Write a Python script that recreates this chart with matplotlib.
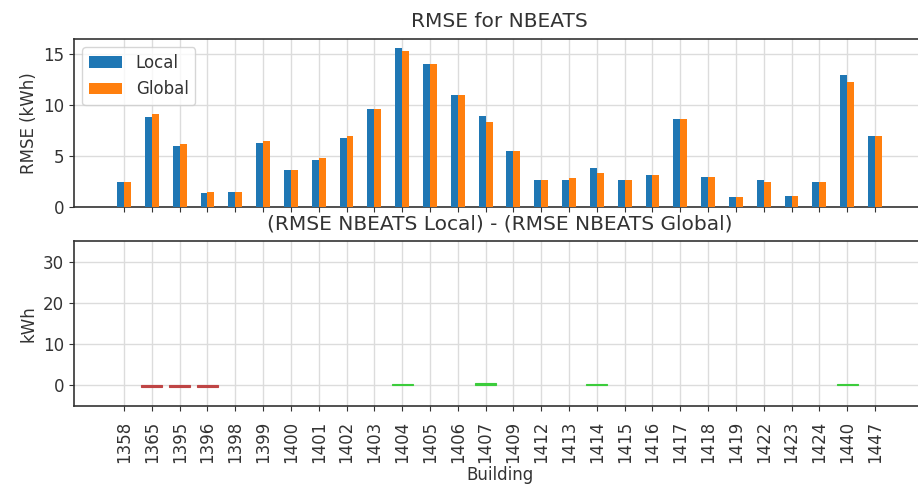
import matplotlib
matplotlib.use("Agg")
import matplotlib.pyplot as plt
import numpy as np

buildings = ["1358", "1365", "1395", "1396", "1398", "1399", "1400", "1401", "1402",
             "1403", "1404", "1405", "1406", "1407", "1409", "1412", "1413", "1414",
             "1415", "1416", "1417", "1418", "1419", "1422", "1423", "1424", "1440", "1447"]
rmse_local = [2.5, 8.8, 6.0, 1.35, 1.5, 6.3, 3.65, 4.65, 6.8, 9.65, 15.65, 14.0, 11.0, 8.95,
              5.5, 2.65, 2.65, 3.8, 2.65, 3.1, 8.65, 2.95, 0.95, 2.65, 1.1, 2.5, 12.95, 6.95]
rmse_global = [2.5, 9.15, 6.15, 1.5, 1.5, 6.5, 3.65, 4.8, 6.95, 9.65, 15.35, 14.0, 11.0, 8.3,
               5.5, 2.65, 2.8, 3.3, 2.65, 3.1, 8.65, 2.95, 0.95, 2.5, 1.1, 2.5, 12.3, 6.95]
diff_values = [0.0, -0.4, -0.35, -0.35, 0.0, 0.0, 0.0, 0.0, 0.0, 0.0, 0.35, 0.0, 0.0, 0.65,
               0.0, 0.0, 0.0, 0.4, 0.0, 0.0, 0.0, 0.0, 0.0, 0.0, 0.0, 0.0, 0.4, 0.0]

BLUE = "#1f77b4"
ORANGE = "#ff7f0e"
RED = "#bf4545"
GREEN = "#3ccc3c"
TXT = "#333333"

plt.rcParams.update({
    "font.family": "DejaVu Sans",
    "font.size": 12,
    "text.color": TXT,
    "axes.labelcolor": TXT,
    "xtick.color": TXT,
    "ytick.color": TXT,
    "axes.edgecolor": "#333333",
    "axes.linewidth": 1.2,
})

W, H = 918, 486
fig = plt.figure(figsize=(W / 100, H / 100), dpi=100)

def frac(l, t, r, b):
    return [l / W, 1 - b / H, (r - l) / W, (b - t) / H]

ax1 = fig.add_axes(frac(74, 39, 925, 207))
ax2 = fig.add_axes(frac(74, 241, 925, 406), sharex=ax1)

x = np.arange(len(buildings))
bw = 0.25
ax1.bar(x - bw / 2, rmse_local, width=bw, color=BLUE, label="Local", zorder=3)
ax1.bar(x + bw / 2, rmse_global, width=bw, color=ORANGE, label="Global", zorder=3)
ax1.set_ylim(0, 16.5)
ax1.set_yticks([0, 5, 10, 15])
ax1.set_ylabel("RMSE (kWh)")
ax1.set_title("RMSE for NBEATS", fontsize=14.5, color=TXT, pad=8.5)
ax1.legend(loc="upper left", fontsize=12, framealpha=0.8)
ax1.grid(True, color="#dcdcdc", linewidth=1.0, zorder=0)
ax1.tick_params(axis="x", labelbottom=False)

dcolors = [GREEN if d > 0 else RED for d in diff_values]
mask = [d != 0 for d in diff_values]
ax2.bar(x[mask], np.array(diff_values)[mask], width=0.75,
        color=np.array(dcolors)[mask], edgecolor=np.array(dcolors)[mask],
        linewidth=0.8, zorder=3)
ax2.set_ylim(-5, 35)
ax2.set_yticks([0, 10, 20, 30])
ax2.set_ylabel("kWh")
ax2.set_title("(RMSE NBEATS Local) - (RMSE NBEATS Global)", fontsize=14.5, color=TXT, pad=8.5)
ax2.grid(True, color="#dcdcdc", linewidth=1.0, zorder=0)
ax2.set_xticks(x)
ax2.set_xticklabels(buildings, rotation=90)
ax2.tick_params(axis="x", pad=7)
ax2.set_xlabel("Building", labelpad=2)
ax2.set_xlim(-1.8, len(buildings) - 1 + 1.8)

fig.savefig("out.png", dpi=100)
